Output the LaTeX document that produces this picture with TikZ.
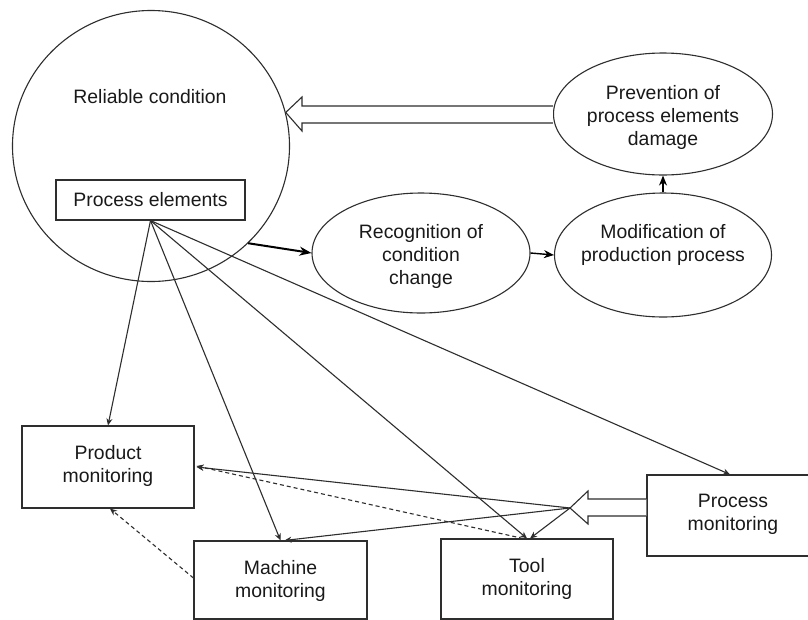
\documentclass[tikz,border=0pt]{standalone}
\usepackage{fontspec}
\setmainfont{Liberation Sans}
\usetikzlibrary{arrows.meta,shapes.geometric}
\definecolor{ln}{HTML}{2E2E2E}
\tikzset{
  shp/.style={draw=ln, line width=1.1pt, inner sep=0pt},
  ell/.style={shp, ellipse},
  box/.style={shp, rectangle},
  txt/.style={align=center, inner sep=0pt, font=\fontsize{19.4}{23}\selectfont, text=black!90},
  con/.style={draw=ln, line width=1.1pt, -{Stealth[length=7pt,width=6pt]}},
  dcon/.style={con, dash pattern=on 4pt off 3pt},
  mid con/.style={draw=black, line width=1.4pt, -{Stealth[length=10pt,width=8pt]}},
  thick con/.style={draw=black, line width=2pt, -{Stealth[length=12pt,width=9pt]}},
  hollow/.style={draw=ln, line width=1.1pt, line join=miter, fill=white},
}
\begin{document}
\begin{tikzpicture}[x=1pt,y=-1pt]
\useasboundingbox (0,0) rectangle (808,619);
\clip (0,0) rectangle (808,619);
\fill[white] (0,0) rectangle (808,619);
% big circle
\node[ell, minimum width=277, minimum height=271] (rc) at (151,146) {};
\node[txt] (rct) at (150,97) {Reliable condition};
\node[box, minimum width=189, minimum height=40] (pe) at (150.5,200) {};
\node[txt] (pet) at (150.5,200) {Process elements};
% ellipses
\node[ell, minimum width=218, minimum height=120] (rec) at (421,253) {};
\node[txt] (rect) at (421,256) {Recognition of\\condition\\change};
\node[ell, minimum width=217, minimum height=124] (mod) at (663,255) {};
\node[txt] (modt) at (663,245) {Modification of\\production process};
\node[ell, minimum width=219, minimum height=122] (prev) at (663,114) {};
\node[txt] (prevt) at (663,117) {Prevention of\\process elements\\damage};
% boxes
\node[box, minimum width=172, minimum height=82] (prod) at (108,467) {};
\node[txt] (prodt) at (108,466) {Product\\monitoring};
\node[box, minimum width=173, minimum height=78] (mach) at (280.5,580) {};
\node[txt] (macht) at (280.5,580.5) {Machine\\monitoring};
\node[box, minimum width=172, minimum height=80] (tool) at (527,579) {};
\node[txt] (toolt) at (527,579) {Tool\\monitoring};
\node[box, minimum width=172, minimum height=81] (procm) at (733,515.5) {};
\node[txt] (procmt) at (733,514) {Process\\monitoring};
% hollow arrows
\draw[hollow] (prev.west |- 0,106) -- (302,106) -- (302,97) -- (rc.14) -- (302,131) -- (302,123) -- (prev.west |- 0,123);
\coordinate (tip) at (570,508);
\draw[hollow] (procm.west |- 0,499) -- (588,499) -- (588,491) -- (tip) -- (588,524) -- (588,516) -- (procm.west |- 0,516);
% top chain
\draw[thick con] (rc.-45) -- (rec.west);
\draw[mid con] (rec.east) -- (mod.west);
\draw[mid con] (mod.north) -- (prev.south);
% fan from process elements
\draw[con] (pe.south) -- (prod.north);
\draw[con] (pe.south) -- (mach.north);
\draw[con] (pe.south) -- (tool.north);
\draw[con] (pe.south) -- ([xshift=-3pt]procm.north);
% from process monitoring arrow tip
\draw[con] (tip) -- ([xshift=2pt]prod.east);
\draw[con] (tip) -- ([xshift=4pt]mach.north);
\draw[con] (tip) -- ([xshift=3pt]tool.north);
% dashed
\draw[dcon] ([xshift=-4pt]tool.north) -- ([xshift=2pt,yshift=1pt]prod.east);
\draw[dcon] ([yshift=2pt]mach.west) -- ([xshift=2pt]prod.south);
\end{tikzpicture}
\end{document}
